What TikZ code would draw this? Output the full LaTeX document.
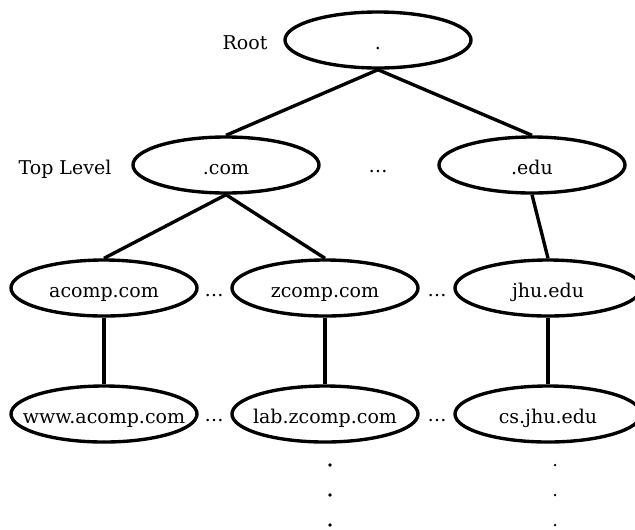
\documentclass[tikz,border=0pt]{standalone}
\usepackage{fontspec}
\setmainfont{DejaVu Serif}
\usetikzlibrary{shapes.geometric}

\begin{document}
\begin{tikzpicture}[x=0.025cm, y=-0.025cm,
  every node/.style={font=\fontsize{13.5}{16}\selectfont, text height=14pt, text depth=0pt},
  dom/.style={draw, ellipse, line width=2.4pt, minimum width=4.65cm, minimum height=1.4cm, inner xsep=-20pt, inner ysep=0pt},
  link/.style={line width=2.4pt}]
\useasboundingbox (0,0) rectangle (635,529);

% Root level
\node (rootlbl) at (245,40) {Root};
\node[dom] (root) at (378,40) {.};

% Top level domains
\node (toplbl) at (65,165) {Top Level};
\node[dom] (com) at (226,165) {.com};
\node (tldots) at (378,163) {\dots};
\node[dom] (edu) at (532,165) {.edu};

% Second level
\node[dom] (acomp) at (104,288) {acomp.com};
\node[dom] (zcomp) at (325,288) {zcomp.com};
\node[dom] (jhu) at (548,288) {jhu.edu};
\node (sldotsa) at (214,287) {\dots};
\node (sldotsb) at (437,287) {\dots};

% Third level
\node[dom] (www) at (104,414) {www.acomp.com};
\node[dom] (lab) at (325,414) {lab.zcomp.com};
\node[dom] (cs) at (548,414) {cs.jhu.edu};
\node (thdotsa) at (214,412) {\dots};
\node (thdotsb) at (437,412) {\dots};

% Tree edges
\draw[link] (root.south) -- (com.north);
\draw[link] (root.south) -- (edu.north);
\draw[link] (com.south) -- (acomp.north);
\draw[link] (com.south) -- (zcomp.north);
\draw[link] (edu.south) -- (jhu.north);
\draw[link] (acomp.south) -- (www.north);
\draw[link] (zcomp.south) -- (lab.north);
\draw[link] (jhu.south) -- (cs.north);

% Vertical ellipses below
\foreach \yy in {465,495,525} {
  \fill (330,\yy) circle (1.3pt);
  \fill (555,\yy) circle (0.9pt);
}
\end{tikzpicture}
\end{document}
